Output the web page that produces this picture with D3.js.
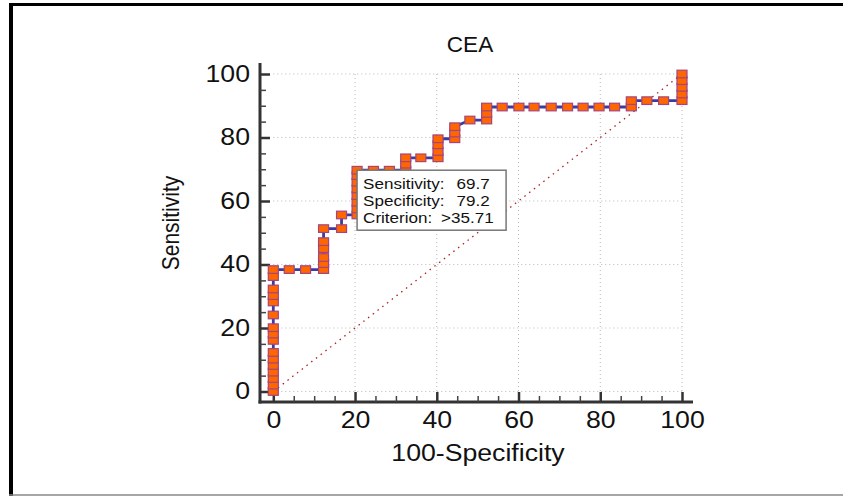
<!DOCTYPE html>
<html>
<head>
<meta charset="utf-8">
<script src="https://cdn.jsdelivr.net/npm/d3@7"></script>
<style>
  body { margin: 0; background: #fff; }
  svg { display: block; font-family: "Liberation Sans", Arial, sans-serif; }
</style>
</head>
<body>
<div id="chart"></div>
<script>
// ROC points (100-Specificity, Sensitivity)
const fpr = [0, 0, 0, 0, 0, 0, 0, 0, 0, 0, 0, 0, 0, 0, 0, 0,
  3.9, 7.9, 12.3, 12.3, 12.3, 12.3, 12.3, 12.3,
  16.7, 16.7, 20.5, 20.5, 20.5, 20.5, 20.5, 20.5, 20.5, 20.5,
  24.5, 28.4, 32.4, 32.4, 32.4, 36.1, 40.3, 40.3, 40.3, 40.3,
  44.4, 44.4, 44.4, 48.1, 52.2, 52.2, 52.2,
  56, 60.1, 63.8, 68, 72, 75.8, 79.7, 83.5, 87.6, 87.6,
  91.4, 95.5, 100, 100, 100, 100, 100];
const sens = [0, 2.0, 4.1, 6.1, 8.2, 10.2, 12.3, 16.1, 18.1, 20.1, 24.1, 28.2, 30.2, 32.3, 36.2, 38.4,
  38.4, 38.4, 38.4, 40.3, 42.2, 45.0, 47.2, 51.3,
  51.3, 55.6, 55.6, 57.5, 59.6, 61.7, 63.8, 65.9, 68.0, 69.7,
  69.7, 69.7, 69.7, 71.6, 73.6, 73.6, 73.6, 75.6, 77.7, 79.6,
  79.6, 81.4, 83.4, 85.5, 85.5, 87.6, 89.6,
  89.6, 89.6, 89.6, 89.6, 89.6, 89.6, 89.6, 89.6, 89.6, 91.6,
  91.6, 91.6, 91.6, 93.7, 95.8, 97.9, 100];

const majorTicks = [0, 20, 40, 60, 80, 100];
const minorTicks = d3.range(0, 101, 5).filter(d => d % 20 !== 0);

const criterion = { x: 20.5, y: 69.7 };
const infoLabels = ["Sensitivity:", "Specificity:", "Criterion:"];
const infoValues = ["69.7", "79.2", ">35.71"];

const W = 843, H = 496;
const sx = 1.16; // text in the picture is a bit wide

const svg = d3.select("#chart").append("svg")
  .attr("width", W)
  .attr("height", H);

// outer frame
svg.append("line").attr("x1", 11).attr("x2", 11).attr("y1", 3).attr("y2", H)
  .attr("stroke", "#000").attr("stroke-width", 4);
svg.append("line").attr("x1", 9).attr("x2", W).attr("y1", 4.5).attr("y2", 4.5)
  .attr("stroke", "#000").attr("stroke-width", 3);
svg.append("line").attr("x1", 9).attr("x2", W).attr("y1", 495).attr("y2", 495)
  .attr("stroke", "#888").attr("stroke-width", 1.5);

const x = d3.scaleLinear().domain([0, 100]).range([273.3, 682]);
const y = d3.scaleLinear().domain([0, 100]).range([391.5, 74]);

// dotted grid
svg.append("g").selectAll("line")
  .data(majorTicks.filter(d => d > 0))
  .enter().append("line")
  .attr("x1", d => x(d)).attr("x2", d => x(d))
  .attr("y1", y(100)).attr("y2", y(0))
  .attr("stroke", "#b8b8b8").attr("stroke-width", 1)
  .attr("stroke-dasharray", "1,3");
svg.append("g").selectAll("line")
  .data(majorTicks)
  .enter().append("line")
  .attr("x1", x(0)).attr("x2", x(100))
  .attr("y1", d => y(d)).attr("y2", d => y(d))
  .attr("stroke", "#b8b8b8").attr("stroke-width", 1)
  .attr("stroke-dasharray", "1,3");

// diagonal reference line
svg.append("line")
  .attr("x1", x(0)).attr("y1", y(0))
  .attr("x2", x(100)).attr("y2", y(100))
  .attr("stroke", "#b02020").attr("stroke-width", 1.3)
  .attr("stroke-dasharray", "1.5,4.5");

// axes lines
const axisX = 260, axisY = 402;
svg.append("line").attr("x1", axisX).attr("x2", axisX).attr("y1", 63).attr("y2", axisY + 1.5)
  .attr("stroke", "#333").attr("stroke-width", 3);
svg.append("line").attr("x1", axisX - 1.5).attr("x2", 693).attr("y1", axisY).attr("y2", axisY)
  .attr("stroke", "#333").attr("stroke-width", 3);

// x axis
const gx = svg.append("g").attr("transform", `translate(0,${axisY})`)
  .call(d3.axisBottom(x).tickValues(majorTicks).tickSize(-10).tickPadding(10));
gx.call(g => g.select(".domain").remove());
gx.selectAll("line").attr("stroke", "#333").attr("stroke-width", 2.5);
gx.selectAll("text")
  .attr("font-size", 23)
  .attr("font-family", "Liberation Sans, Arial, sans-serif")
  .attr("fill", "#111")
  .attr("transform", `scale(${sx},1)`);

const gxm = svg.append("g").attr("transform", `translate(0,${axisY})`)
  .call(d3.axisBottom(x).tickValues(minorTicks).tickSize(-6).tickFormat(""));
gxm.call(g => g.select(".domain").remove());
gxm.selectAll("line").attr("stroke", "#444").attr("stroke-width", 1.5);

// y axis
const gy = svg.append("g").attr("transform", `translate(${axisX},0)`)
  .call(d3.axisLeft(y).tickValues(majorTicks).tickSize(-10).tickPadding(8.6));
gy.call(g => g.select(".domain").remove());
gy.selectAll("line").attr("stroke", "#333").attr("stroke-width", 2.5);
gy.selectAll("text")
  .attr("font-size", 23)
  .attr("font-family", "Liberation Sans, Arial, sans-serif")
  .attr("fill", "#111")
  .attr("transform", `scale(${sx},1)`);

const gym = svg.append("g").attr("transform", `translate(${axisX},0)`)
  .call(d3.axisLeft(y).tickValues(minorTicks).tickSize(-6).tickFormat(""));
gym.call(g => g.select(".domain").remove());
gym.selectAll("line").attr("stroke", "#444").attr("stroke-width", 1.5);

// ROC curve
const pts = fpr.map((d, i) => [d, sens[i]]);
svg.append("path")
  .datum(pts)
  .attr("fill", "none")
  .attr("stroke", "#3d3aa0")
  .attr("stroke-width", 2.8)
  .attr("d", d3.line().x(d => x(d[0])).y(d => y(d[1])));

svg.append("g").selectAll("rect")
  .data(pts)
  .enter().append("rect")
  .attr("x", d => x(d[0]) - 5)
  .attr("y", d => y(d[1]) - 3.8)
  .attr("width", 10)
  .attr("height", 7.6)
  .attr("fill", "#ff6600")
  .attr("stroke", "#a3457f")
  .attr("stroke-width", 1.2);

// info box at the criterion point
const bx = x(criterion.x), by = y(criterion.y);
svg.append("rect")
  .attr("x", bx).attr("y", by)
  .attr("width", 149).attr("height", 60)
  .attr("fill", "#fff")
  .attr("stroke", "#777").attr("stroke-width", 1.5);
infoLabels.forEach((t, i) => {
  svg.append("text")
    .attr("transform", `translate(${bx + 6},${by + 19 + i * 17}) scale(1.1,1)`)
    .attr("font-size", 15.5).attr("fill", "#111")
    .text(t);
  svg.append("text")
    .attr("transform", `translate(${bx + (i === 2 ? 84 : 99.5)},${by + 19 + i * 17}) scale(1.1,1)`)
    .attr("font-size", 15.5).attr("fill", "#111")
    .text(infoValues[i]);
});

// title and axis labels
svg.append("text")
  .attr("transform", `translate(470,52) scale(1.05,1)`)
  .attr("text-anchor", "middle")
  .attr("font-size", 21.5).attr("fill", "#111")
  .text("CEA");

svg.append("text")
  .attr("transform", `translate(478,461) scale(${sx},1)`)
  .attr("text-anchor", "middle")
  .attr("font-size", 23).attr("fill", "#111")
  .text("100-Specificity");

svg.append("text")
  .attr("transform", `translate(179,223) rotate(-90) scale(1,${sx})`)
  .attr("text-anchor", "middle")
  .attr("font-size", 21).attr("fill", "#111")
  .text("Sensitivity");
</script>
</body>
</html>
